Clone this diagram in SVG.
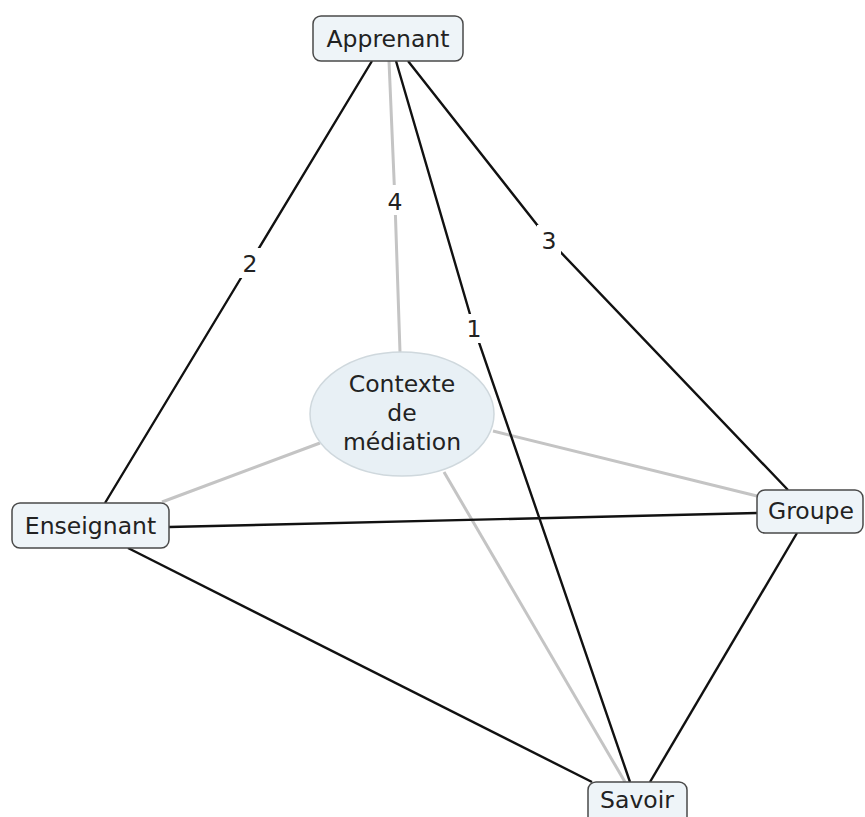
<svg xmlns="http://www.w3.org/2000/svg" width="865" height="817" viewBox="0 0 865 817">
  <style>
    .node rect { fill: #eef4f8; stroke: #4a4a4a; stroke-width: 1.5; }
    .node ellipse { fill: #e8f0f5; stroke: #cfd8dd; stroke-width: 1.5; }
    text { font-family: "DejaVu Sans", Verdana, sans-serif; font-size: 23.5px; fill: #222; text-anchor: middle; }
    .strong { stroke: #111; stroke-width: 2.4; fill: none; }
    .soft { stroke: #c4c4c4; stroke-width: 3; fill: none; }
    .lbl-bg { fill: #fff; }
  </style>
  <rect width="865" height="817" fill="#fff"/>

  <g id="connectors">
    <!-- links routed through their numbered labels -->
    <polyline class="soft" points="389,61 395,202 400,352"/>
    <line class="soft" x1="320" y1="443" x2="162" y2="502"/>
    <line class="soft" x1="493" y1="431" x2="757" y2="496"/>
    <line class="soft" x1="444" y1="472" x2="625" y2="782"/>
    <polyline class="strong" points="372,61 250,263 105,503"/>
    <polyline class="strong" points="396,61 474,328 630,782"/>
    <polyline class="strong" points="408,61 549,240 788,490"/>
    <line class="strong" x1="169" y1="527" x2="757" y2="513"/>
    <line class="strong" x1="128" y1="548" x2="592" y2="782"/>
    <line class="strong" x1="797" y1="533" x2="650" y2="782"/>
    <g id="labels">
      <rect class="lbl-bg" x="239" y="248" width="22" height="30"/>
      <text x="250" y="272">2</text>
      <rect class="lbl-bg" x="384" y="185" width="22" height="30"/>
      <text x="395" y="210">4</text>
      <rect class="lbl-bg" x="463" y="314" width="22" height="29"/>
      <text x="474" y="337">1</text>
      <rect class="lbl-bg" x="537" y="225" width="24" height="30"/>
      <text x="549" y="249">3</text>
    </g>
  </g>

  <g id="apprenant" class="node">
    <rect x="313" y="16" width="150" height="45" rx="8"/>
    <text x="388" y="47">Apprenant</text>
  </g>
  <g id="enseignant" class="node">
    <rect x="12" y="503" width="157" height="45" rx="8"/>
    <text x="90.5" y="534">Enseignant</text>
  </g>
  <g id="groupe" class="node">
    <rect x="757" y="490" width="106" height="43" rx="8"/>
    <text x="811" y="519">Groupe</text>
  </g>
  <g id="savoir" class="node">
    <rect x="588" y="782" width="99" height="45" rx="8"/>
    <text x="637" y="808">Savoir</text>
  </g>
  <g id="contexte" class="node">
    <ellipse cx="402" cy="414" rx="92" ry="62"/>
    <text x="402" y="392">Contexte</text>
    <text x="402" y="421">de</text>
    <text x="402" y="450">médiation</text>
  </g>
</svg>
